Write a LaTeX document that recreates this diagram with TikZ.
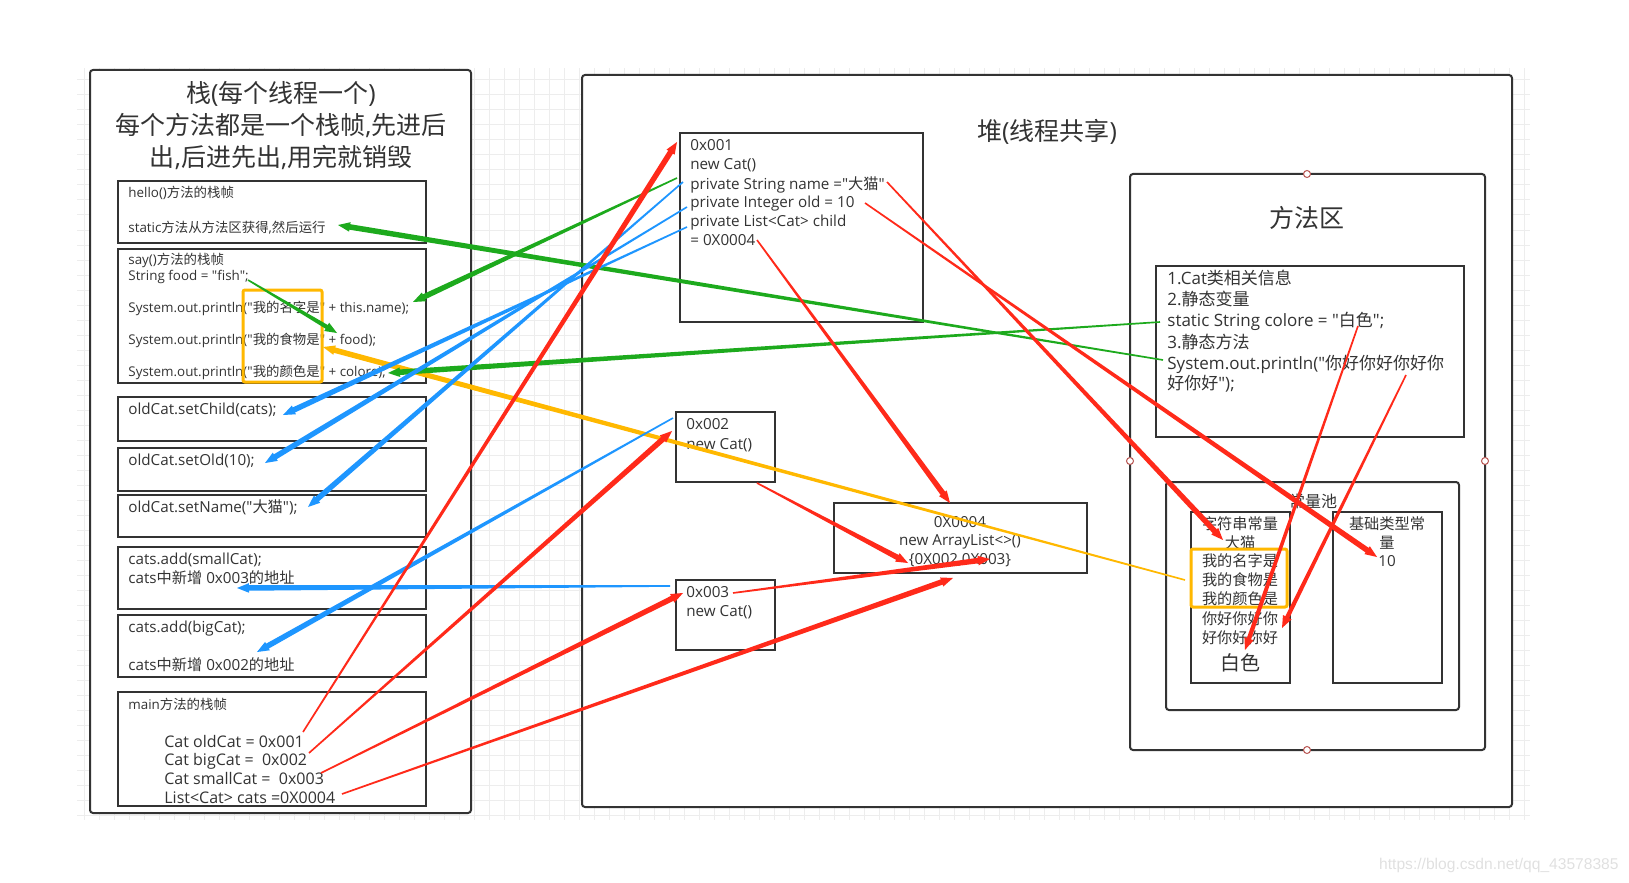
\documentclass[tikz,border=0pt]{standalone}
\usepackage{fontspec}
\newfontfamily\latinfont{Open Sans}
\newfontfamily\cjkfont{Noto Sans CJK SC}
\newfontfamily\wmfont{Liberation Sans}
% Han characters come from the CJK font, everything else from Open Sans
\XeTeXinterchartokenstate=1
\newXeTeXintercharclass\cjkclass
\count255="4E00
\loop
  \XeTeXcharclass\count255=\cjkclass
  \advance\count255 by 1
\ifnum\count255<"A000 \repeat
\XeTeXinterchartoks 0 \cjkclass={\cjkfont}
\XeTeXinterchartoks 4095 \cjkclass={\cjkfont}
\XeTeXinterchartoks \cjkclass 0={\latinfont}
\XeTeXinterchartoks \cjkclass 4095={\latinfont}
\usetikzlibrary{calc}

\definecolor{boxgray}{HTML}{333333}
\definecolor{arrowred}{HTML}{FF2A1A}
\definecolor{arrowblue}{HTML}{1E96FF}
\definecolor{arrowgreen}{HTML}{1DAA1D}
\definecolor{hlorange}{HTML}{FFB800}
\definecolor{handlered}{HTML}{B85450}

% thin at the start, thick at the head
\newcommand{\taperarrow}[4][1.4pt]{%
  \coordinate (tneck) at ($(#4)!6pt!(#3)$);
  \coordinate (tshaft) at ($(#4)!4.5pt!(#3)$);
  \fill[#2] ($(#3)!0.4pt!90:(#4)$) -- ($(tshaft)!#1!-90:(#3)$) -- ($(tshaft)!#1!90:(#3)$) -- ($(#3)!0.4pt!-90:(#4)$) -- cycle;
  \fill[#2] (#4) -- ($(tneck)!2.4pt!90:(#4)$) -- ($(tneck)!2.4pt!-90:(#4)$) -- cycle;
}

\begin{document}
\begin{tikzpicture}[x=0.5pt,y=-0.5pt,
    gridline/.style={draw=black!7, line width=0.5pt},
    box/.style={draw=boxgray, line width=1pt, fill=white},
    frame/.style={box, rounded corners=1.5pt},
    hilite/.style={draw=hlorange, line width=1.5pt, rounded corners=1pt},
    txt/.style={anchor=west, inner sep=0pt, text=boxgray, text height=0.8em, text depth=0.05em, font=\latinfont\fontsize{7.6}{9}\selectfont},
    small/.style={txt, font=\latinfont\fontsize{6.7}{8}\selectfont},
    value/.style={txt, font=\latinfont\fontsize{8}{9.5}\selectfont},
    info/.style={txt, font=\latinfont\fontsize{8.5}{10}\selectfont},
    ctr/.style={txt, anchor=center},
    title/.style={inner sep=0pt, text=boxgray, align=center, font=\latinfont\fontsize{12.5}{16}\selectfont},
    handle/.style={circle, draw=handlered, fill=white, line width=0.5pt, inner sep=0pt, minimum size=3.5pt},
    redarrow/.style={fill=arrowred},
    bluearrow/.style={fill=arrowblue},
    greenarrow/.style={fill=arrowgreen},
    orangearrow/.style={fill=hlorange}]
    \useasboundingbox (0,0) rectangle (1629,883);

    % background grid
    \foreach \gx in {84,99,...,1524} \draw[gridline] (\gx,68) -- (\gx,820);
    \foreach \gy in {80,95,...,815} \draw[gridline] (77,\gy) -- (1530,\gy);

    % stack
    \draw[frame] (90,70) rectangle (471,813);
    \node[title] (stacktitle) at (281,126) {栈(每个线程一个)\\每个方法都是一个栈帧,先进后\\出,后进先出,用完就销毁};
    \draw[box] (118,181) rectangle (426,243);
    \draw[box] (118,249) rectangle (426,383);
    \draw[box] (118,397) rectangle (426,441);
    \draw[box] (118,448) rectangle (426,491);
    \draw[box] (118,495) rectangle (426,537);
    \draw[box] (118,547) rectangle (426,609);
    \draw[box] (118,615) rectangle (426,677);
    \draw[box] (118,692) rectangle (426,806);

    \node[small] (hellohead) at (128,190) {hello()方法的栈帧};
    \node[small] (hellostatic) at (128,225) {static方法从方法区获得,然后运行};
    \node[small] (sayhead) at (128,257) {say()方法的栈帧};
    \node[small] (sayfish) at (128,273) {String food = "fish";};
    \node[small] (sayname) at (128,305) {System.out.println("我的名字是" + this.name);};
    \node[small] (sayfood) at (128,337) {System.out.println("我的食物是" + food);};
    \node[small] (saycolore) at (128,369) {System.out.println("我的颜色是" + colore);};
    \node[txt] (setchild) at (128,407) {oldCat.setChild(cats);};
    \node[txt] (setold) at (128,458) {oldCat.setOld(10);};
    \node[txt] (setname) at (128,505) {oldCat.setName("大猫");};
    \node[txt] (addsmall) at (128,557) {cats.add(smallCat);};
    \node[txt] (addsmallnote) at (128,576) {cats中新增 0x003的地址};
    \node[txt] (addbig) at (128,625) {cats.add(bigCat);};
    \node[txt] (addbignote) at (128,663) {cats中新增 0x002的地址};
    \node[small] (mainhead) at (128,702) {main方法的栈帧};
    \node[value] (mainold) at (164,740) {Cat oldCat = 0x001};
    \node[value] (mainbig) at (164,758) {Cat bigCat =\ \ 0x002};
    \node[value] (mainsmall) at (164,777) {Cat smallCat =\ \ 0x003};
    \node[value] (maincats) at (164,796) {List<Cat> cats =0X0004};
    \draw[hilite] (243,290) rectangle (322,382);

    % heap
    \draw[frame] (582,75) rectangle (1512,807);
    \node[title] (heaptitle) at (1047,132) {堆(线程共享)};
    \draw[box] (680,133) rectangle (923,322);
    \draw[box] (676,412) rectangle (775,482);
    \draw[box] (676,580) rectangle (775,650);
    \draw[box] (834,503) rectangle (1087,573);

    \node[txt] (oneaddr) at (690,143) {0x001};
    \node[txt] (onenew) at (690,162) {new Cat()};
    \node[txt] (onename) at (690,182) {private String name ="大猫"};
    \node[txt] (oneold) at (690,200) {private Integer old = 10};
    \node[txt] (onechild) at (690,219) {private List<Cat> child};
    \node[txt] (onechildval) at (690,238) {= 0X0004};
    \node[txt] (twoaddr) at (686,422) {0x002};
    \node[txt] (twonew) at (686,442) {new Cat()};
    \node[txt] (threeaddr) at (686,590) {0x003};
    \node[txt] (threenew) at (686,609) {new Cat()};
    \node[ctr] (listaddr) at (960,520) {0X0004};
    \node[ctr] (listnew) at (960,538) {new ArrayList<>()};
    \node[ctr] (listitems) at (960,557) {\{0X002,0X003\}};

    % method area
    \draw[frame] (1130,174) rectangle (1485,750);
    \node[title] (methodtitle) at (1307,218) {方法区};
    \draw[box] (1156,266) rectangle (1464,437);
    \node[info] (infoone) at (1167,277) {1.Cat类相关信息};
    \node[info] (infotwo) at (1167,298) {2.静态变量};
    \node[info] (infothree) at (1167,319) {static String colore = "白色";};
    \node[info] (infofour) at (1167,341) {3.静态方法};
    \node[info] (infofive) at (1167,362) {System.out.println("你好你好你好你};
    \node[info] (infosix) at (1167,382) {好你好");};

    \draw[frame] (1166,482) rectangle (1459,710);
    \node[ctr, font=\latinfont\fontsize{8}{10}\selectfont] (pooltitle) at (1313,500) {常量池};
    \draw[box] (1191,512) rectangle (1290,683);
    \draw[box] (1333,512) rectangle (1442,683);
    \node[ctr] (strhead) at (1240,522) {字符串常量};
    \node[ctr] (strdamao) at (1240,541) {大猫};
    \node[ctr] (strname) at (1240,559) {我的名字是};
    \node[ctr] (strfood) at (1240,578) {我的食物是};
    \node[ctr] (strcolor) at (1240,597) {我的颜色是};
    \node[ctr] (strhelloa) at (1240,617) {你好你好你};
    \node[ctr] (strhellob) at (1240,636) {好你好你好};
    \node[ctr, font=\latinfont\fontsize{10}{12}\selectfont] (strwhite) at (1240,663) {白色};
    \node[ctr] (basehead) at (1387,522) {基础类型常};
    \node[ctr] (baseheadb) at (1387,541) {量};
    \node[ctr] (baseten) at (1387,559) {10};
    \draw[hilite] (1191,549) rectangle (1287,607);

    \node[handle] (handletop) at (1307,174) {};
    \node[handle] (handlebottom) at (1307,750) {};
    \node[handle] (handleleft) at (1130,461) {};
    \node[handle] (handleright) at (1485,461) {};

    % arrow ends
    \coordinate (oldcatval) at (303,732);
    \coordinate (bigcatval) at (309,753);
    \coordinate (smallcatval) at (321,773);
    \coordinate (catsval) at (342,794);
    \coordinate (catonein) at (677,142);
    \coordinate (cattwoin) at (672,431);
    \coordinate (catthreein) at (683,593);
    \coordinate (listin) at (953,578);
    \coordinate (namestr) at (887,182);
    \coordinate (oldnum) at (865,203);
    \coordinate (childref) at (757,240);
    \coordinate (damaoconst) at (1223,540);
    \coordinate (tenconst) at (1377,557);
    \coordinate (listtop) at (950,503);
    \coordinate (cattwoout) at (757,483);
    \coordinate (catthreeout) at (733,593);
    \coordinate (listfirst) at (908,563);
    \coordinate (listsecond) at (990,559);
    \coordinate (colorestr) at (1358,326);
    \coordinate (hellostr) at (1406,375);
    \coordinate (whiteconst) at (1245,650);
    \coordinate (helloconst) at (1282,628);
    \coordinate (namegreen) at (677,178);
    \coordinate (thisname) at (413,302);
    \coordinate (coloreref) at (1160,322);
    \coordinate (coloreuse) at (388,373);
    \coordinate (printref) at (1163,360);
    \coordinate (staticuse) at (338,225);
    \coordinate (fishval) at (248,280);
    \coordinate (fooduse) at (337,333);
    \coordinate (nameblue) at (683,182);
    \coordinate (oldblue) at (687,207);
    \coordinate (childblue) at (687,227);
    \coordinate (cattwoblue) at (673,418);
    \coordinate (catthreeblue) at (670,586);
    \coordinate (setnameuse) at (308,507);
    \coordinate (setolduse) at (265,463);
    \coordinate (setchilduse) at (283,415);
    \coordinate (bigcatuse) at (257,652);
    \coordinate (smallcatuse) at (237,588);
    \coordinate (strhlref) at (1185,580);
    \coordinate (foodstr) at (323,347);

    % arrows
    \taperarrow{orangearrow}{strhlref}{foodstr}
    \taperarrow{greenarrow}{namegreen}{thisname}
    \taperarrow{greenarrow}{coloreref}{coloreuse}
    \taperarrow{greenarrow}{printref}{staticuse}
    \taperarrow[1.1pt]{greenarrow}{fishval}{fooduse}
    \taperarrow{bluearrow}{nameblue}{setnameuse}
    \taperarrow{bluearrow}{oldblue}{setolduse}
    \taperarrow{bluearrow}{childblue}{setchilduse}
    \taperarrow{bluearrow}{cattwoblue}{bigcatuse}
    \taperarrow{bluearrow}{catthreeblue}{smallcatuse}
    \taperarrow{redarrow}{oldcatval}{catonein}
    \taperarrow{redarrow}{bigcatval}{cattwoin}
    \taperarrow{redarrow}{smallcatval}{catthreein}
    \taperarrow{redarrow}{catsval}{listin}
    \taperarrow{redarrow}{namestr}{damaoconst}
    \taperarrow{redarrow}{oldnum}{tenconst}
    \taperarrow{redarrow}{childref}{listtop}
    \taperarrow{redarrow}{cattwoout}{listfirst}
    \taperarrow{redarrow}{catthreeout}{listsecond}
    \taperarrow[1.1pt]{redarrow}{colorestr}{whiteconst}
    \taperarrow[1.1pt]{redarrow}{hellostr}{helloconst}

    \node[anchor=east, inner sep=0pt, text=black!12, font=\wmfont\fontsize{7.8}{9}\selectfont] (watermark) at (1619,865) {https://blog.csdn.net/qq\_43578385};
\end{tikzpicture}
\end{document}
